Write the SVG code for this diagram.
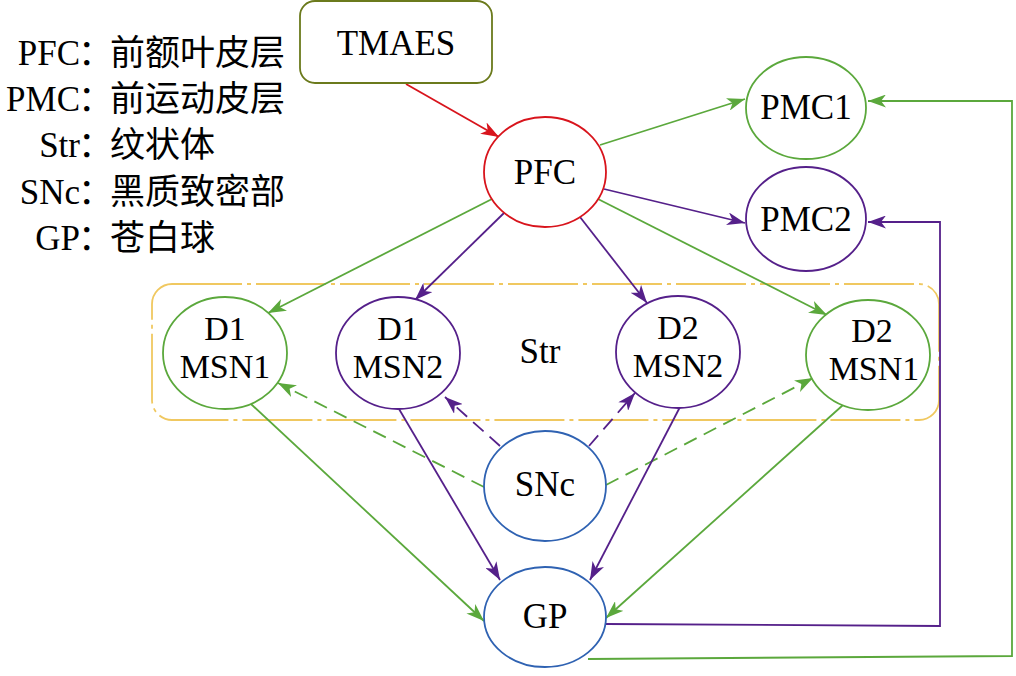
<svg xmlns="http://www.w3.org/2000/svg" width="1016" height="676" viewBox="0 0 1016 676">
<style>
.t{font-family:"Liberation Serif","Times New Roman",serif;font-size:35px;fill:#000;text-anchor:middle}
.t2{font-size:34px}
.lg{font-family:"Liberation Serif","Noto Sans CJK SC",serif;font-size:35px;fill:#000}
.cjk{font-family:"Noto Sans CJK SC",sans-serif}
.n{fill:#fff;stroke-width:1.8}
.g{stroke:#5ba83c}
.p{stroke:#55208a}
.b{stroke:#2f62b2}
.r{stroke:#d8141c}
.c{fill:none;stroke-width:1.8}
.d{stroke-dasharray:14 8}
</style>
<defs>
<marker id="ag" viewBox="0 0 18 13" refX="18" refY="6.5" markerWidth="18" markerHeight="13" markerUnits="userSpaceOnUse" orient="auto"><path d="M0,0 L18,6.5 L0,13 L5,6.5 z" fill="#5ba83c"/></marker>
<marker id="ap" viewBox="0 0 18 13" refX="18" refY="6.5" markerWidth="18" markerHeight="13" markerUnits="userSpaceOnUse" orient="auto"><path d="M0,0 L18,6.5 L0,13 L5,6.5 z" fill="#55208a"/></marker>
<marker id="ar" viewBox="0 0 18 13" refX="18" refY="6.5" markerWidth="18" markerHeight="13" markerUnits="userSpaceOnUse" orient="auto"><path d="M0,0 L18,6.5 L0,13 L5,6.5 z" fill="#d8141c"/></marker>
</defs>
<rect width="1016" height="676" fill="#fff"/>
<g id="legend">
<text class="lg" y="65"><tspan x="80" text-anchor="end">PFC</tspan><tspan class="cjk" x="78">：</tspan><tspan class="cjk" x="110">前额叶皮层</tspan></text>
<text class="lg" y="111"><tspan x="80" text-anchor="end">PMC</tspan><tspan class="cjk" x="78">：</tspan><tspan class="cjk" x="110">前运动皮层</tspan></text>
<text class="lg" y="157"><tspan x="80" text-anchor="end">Str</tspan><tspan class="cjk" x="78">：</tspan><tspan class="cjk" x="110">纹状体</tspan></text>
<text class="lg" y="204"><tspan x="80" text-anchor="end">SNc</tspan><tspan class="cjk" x="78">：</tspan><tspan class="cjk" x="110">黑质致密部</tspan></text>
<text class="lg" y="250"><tspan x="80" text-anchor="end">GP</tspan><tspan class="cjk" x="78">：</tspan><tspan class="cjk" x="110">苍白球</tspan></text>
</g>
<g id="str">
<rect x="152" y="284" width="787" height="136" rx="20" fill="none" stroke="#f0c860" stroke-width="1.8" stroke-dasharray="70 5 4 5"/>
<text class="t" x="540" y="363">Str</text>
</g>
<g id="connectors">
<path class="c r" d="M406,84 L499,137" marker-end="url(#ar)"/>
<path class="c g" d="M600,145 L745,99" marker-end="url(#ag)"/>
<path class="c p" d="M604,189 L745,223" marker-end="url(#ap)"/>
<path class="c g" d="M492,199 L268,313" marker-end="url(#ag)"/>
<path class="c p" d="M504,213 L415,300" marker-end="url(#ap)"/>
<path class="c p" d="M580,217 L647,303" marker-end="url(#ap)"/>
<path class="c g" d="M598,199 L827,315" marker-end="url(#ag)"/>
<path class="c g d" d="M484,487 L278,383" marker-end="url(#ag)"/>
<path class="c p d" d="M500,446 L445,397" marker-end="url(#ap)"/>
<path class="c p d" d="M589,446 L635,393" marker-end="url(#ap)"/>
<path class="c g d" d="M606,485 L813,378" marker-end="url(#ag)"/>
<path class="c g" d="M251,404 L484,621" marker-end="url(#ag)"/>
<path class="c p" d="M399,409 L500,580" marker-end="url(#ap)"/>
<path class="c p" d="M680,407 L590,580" marker-end="url(#ap)"/>
<path class="c g" d="M843,405 L606,618" marker-end="url(#ag)"/>
<path class="c p" d="M606,624 L940,626 L940,222 L868,222" marker-end="url(#ap)"/>
<path class="c g" d="M588,659 L1012,656 L1012,101 L868,101" marker-end="url(#ag)"/>
</g>
<g id="tmaes"><rect x="300" y="1" width="192" height="82" rx="15" fill="#fff" stroke="#6b7a1c" stroke-width="1.8"/><text class="t" x="396" y="55">TMAES</text></g>
<g id="pfc"><ellipse class="n r" cx="545" cy="172" rx="61" ry="55"/><text class="t" x="545" y="184">PFC</text></g>
<g id="pmc1"><ellipse class="n g" cx="806" cy="108" rx="60" ry="51"/><text class="t" x="806" y="119">PMC1</text></g>
<g id="pmc2"><ellipse class="n p" cx="806" cy="219" rx="60" ry="52"/><text class="t" x="806" y="231">PMC2</text></g>
<g id="d1msn1"><ellipse class="n g" cx="225" cy="353" rx="62" ry="56"/><text class="t t2" x="225" y="340">D1</text><text class="t t2" x="225" y="378">MSN1</text></g>
<g id="d1msn2"><ellipse class="n p" cx="398" cy="353" rx="62" ry="56"/><text class="t t2" x="398" y="340">D1</text><text class="t t2" x="398" y="378">MSN2</text></g>
<g id="d2msn2"><ellipse class="n p" cx="678" cy="352" rx="62" ry="56"/><text class="t t2" x="678" y="339">D2</text><text class="t t2" x="678" y="377">MSN2</text></g>
<g id="d2msn1"><ellipse class="n g" cx="868" cy="355" rx="62" ry="55"/><text class="t t2" x="872" y="342">D2</text><text class="t t2" x="874" y="380">MSN1</text></g>
<g id="snc"><ellipse class="n b" cx="545" cy="486" rx="61" ry="55"/><text class="t" x="545" y="496">SNc</text></g>
<g id="gp"><ellipse class="n b" cx="545" cy="617" rx="61" ry="50"/><text class="t" x="545" y="628">GP</text></g>
</svg>
